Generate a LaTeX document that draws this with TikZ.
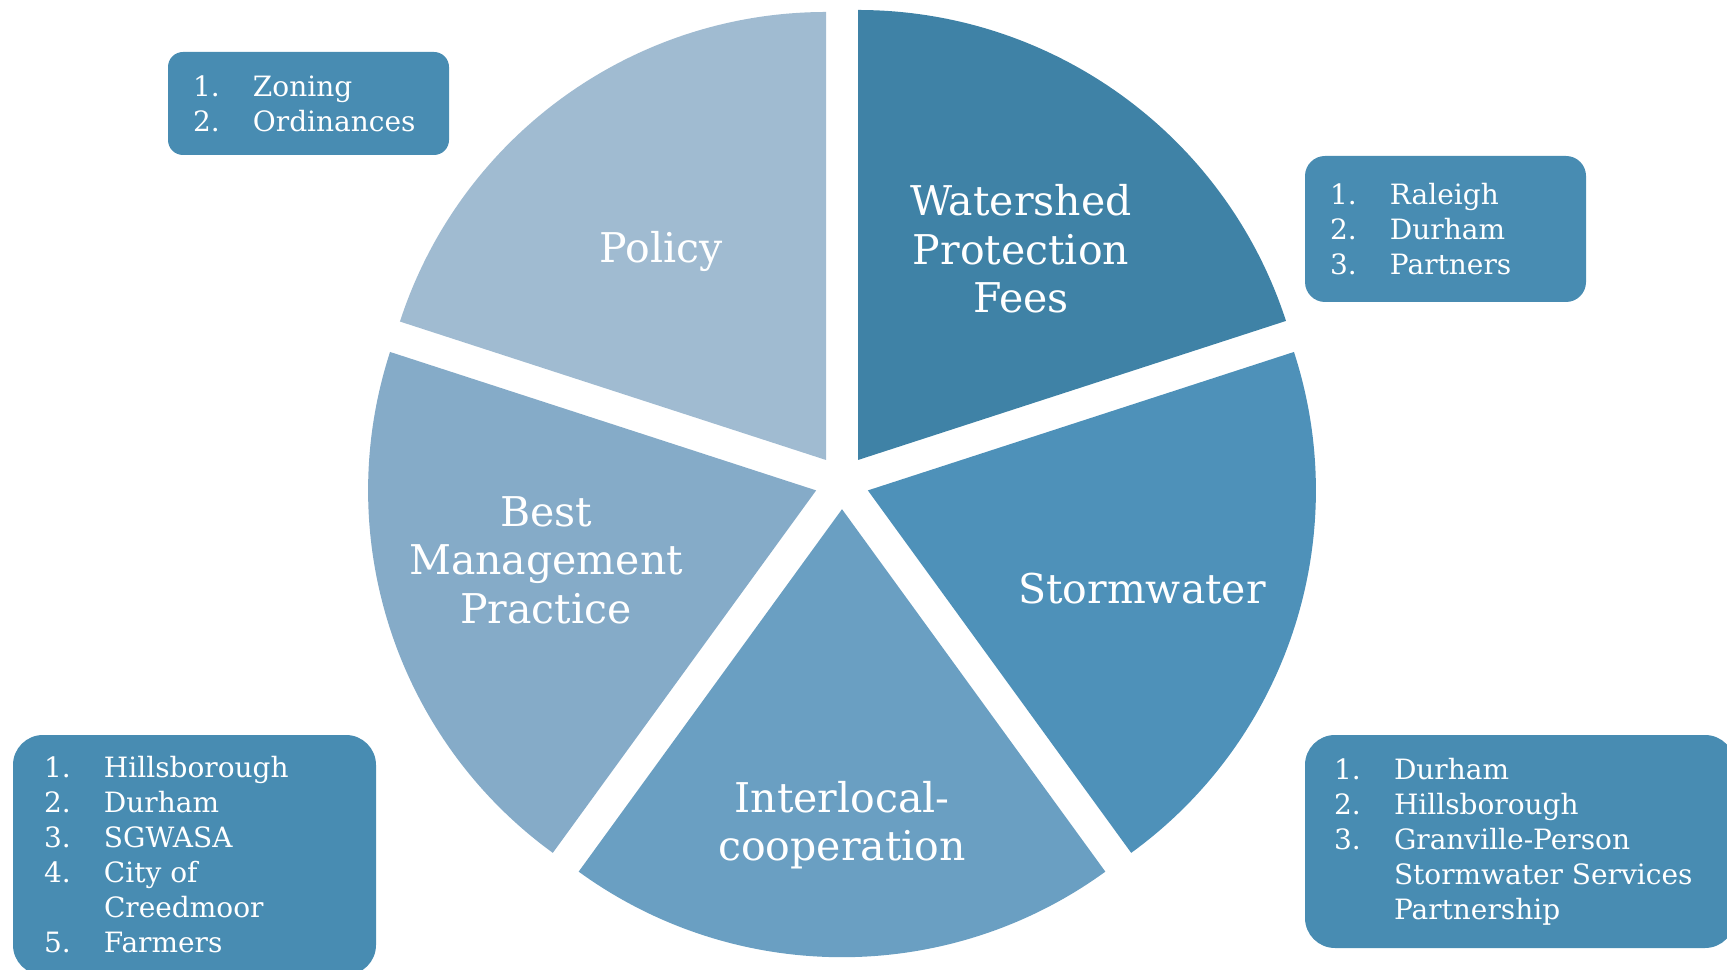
\documentclass[tikz,border=0pt]{standalone}
\usepackage{fontspec}
\setmainfont{DejaVu Serif}
\usepackage{xcolor}
\usepackage{tikz}
\usetikzlibrary{calc, positioning}
\definecolor{policyblue}{RGB}{160,187,209}
\definecolor{feesblue}{RGB}{63,130,166}
\definecolor{stormblue}{RGB}{78,145,185}
\definecolor{interblue}{RGB}{106,159,194}
\definecolor{bmpblue}{RGB}{133,171,200}
\definecolor{listblue}{RGB}{72,140,178}
\newcommand{\itm}[2]{\makebox[30pt][l]{#1}#2}

\begin{document}
\begin{tikzpicture}[x=0.5pt, y=0.5pt,
  slicelbl/.style={text=white, align=center, inner sep=0pt,
                   font=\fontsize{20.5}{24.3}\selectfont},
  listbox/.style={rectangle, fill=listblue, inner sep=0pt},
  listtxt/.style={text=white, align=left, anchor=west, inner sep=0pt,
                  font=\fontsize{14}{17.5}\selectfont}
]
  \useasboundingbox (0,0) rectangle (1727,969);
  \clip (0,0) rectangle (1727,969);

  % exploded pie
  \coordinate (ctr) at (842,487);
  \coordinate (policyapex) at ($(ctr)+(126:13.6pt)$);
  \coordinate (feesapex)   at ($(ctr)+(54:13.6pt)$);
  \coordinate (stormapex)  at ($(ctr)+(-18:13.6pt)$);
  \coordinate (interapex)  at ($(ctr)+(-90:13.6pt)$);
  \coordinate (bmpapex)    at ($(ctr)+(198:13.6pt)$);

  \fill[policyblue] (policyapex) -- ++(162:224pt) arc[start angle=162, end angle=90, radius=224pt] -- cycle;
  \fill[feesblue]   (feesapex)   -- ++(90:225pt)  arc[start angle=90, end angle=18, radius=225pt] -- cycle;
  \fill[stormblue]  (stormapex)  -- ++(18:224pt)  arc[start angle=18, end angle=-54, radius=224pt] -- cycle;
  \fill[interblue]  (interapex)  -- ++(-54:224pt) arc[start angle=-54, end angle=-126, radius=224pt] -- cycle;
  \fill[bmpblue]    (bmpapex)    -- ++(-126:224pt) arc[start angle=234, end angle=162, radius=224pt] -- cycle;

  \node[slicelbl] (policy) at (661,718)  {Policy};
  \node[slicelbl] (fees)   at (1021,720) {Watershed\\Protection\\Fees};
  \node[slicelbl] (storm)  at (1142,380) {Stormwater};
  \node[slicelbl] (inter)  at (842,144)  {Interlocal-\\cooperation};
  \node[slicelbl] (bmp)    at (546,409)  {Best\\Management\\Practice};

  % lists
  \node[listbox, minimum width=140.5pt, minimum height=51.5pt, rounded corners=7.5pt] (policybox) at (308.5,865.5) {};
  \node[listtxt] (policylist) at ([xshift=12.5pt]policybox.west)
    {\itm{1.}{Zoning}\\\itm{2.}{Ordinances}};

  \node[listbox, minimum width=140.5pt, minimum height=73pt, rounded corners=10pt] (feesbox) at (1445.5,740) {};
  \node[listtxt] (feeslist) at ([xshift=12.5pt]feesbox.west)
    {\itm{1.}{Raleigh}\\\itm{2.}{Durham}\\\itm{3.}{Partners}};

  \node[listbox, minimum width=181.5pt, minimum height=120pt, rounded corners=15pt] (bmpbox) at (194.5,114) {};
  \node[listtxt] (bmplist) at ([xshift=15.5pt]bmpbox.west)
    {\itm{1.}{Hillsborough}\\\itm{2.}{Durham}\\\itm{3.}{SGWASA}\\\itm{4.}{City of}\\\itm{}{Creedmoor}\\\itm{5.}{Farmers}};

  \node[listbox, minimum width=215pt, minimum height=106.5pt, rounded corners=15pt] (stormbox) at (1520,127.5) {};
  \node[listtxt] (stormlist) at ([xshift=14.5pt]stormbox.west)
    {\itm{1.}{Durham}\\\itm{2.}{Hillsborough}\\\itm{3.}{Granville-Person}\\\itm{}{Stormwater Services}\\\itm{}{Partnership}};
\end{tikzpicture}
\end{document}
